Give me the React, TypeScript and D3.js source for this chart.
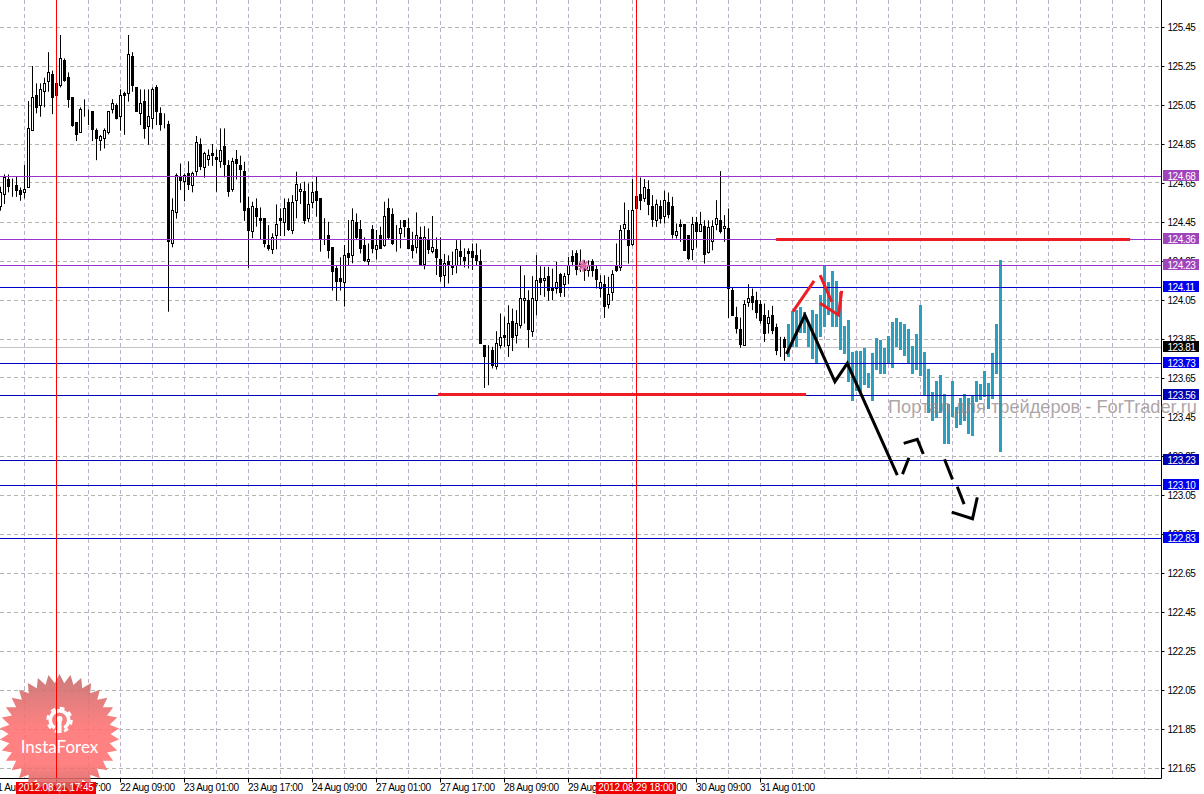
import { useEffect, useRef } from 'react';
import * as d3 from 'd3';

// open, high, low, close for each hourly bar
const ohlc: number[][] = [
  [124.528, 124.631, 124.508, 124.602], [124.59, 124.694, 124.542, 124.679], [124.668, 124.694, 124.602, 124.634], [124.648, 124.673, 124.579, 124.645],
  [124.639, 124.682, 124.579, 124.614], [124.609, 124.627, 124.559, 124.59], [124.6, 124.742, 124.571, 124.617], [124.626, 125.07, 124.626, 124.93],
  [124.918, 125.25, 124.918, 125.089], [125.099, 125.161, 125.007, 125.038], [125.046, 125.161, 124.99, 125.13], [125.118, 125.19, 125.038, 125.161],
  [125.169, 125.321, 125.118, 125.217], [125.207, 125.226, 125.003, 125.087], [125.161, 125.207, 125.036, 125.097], [125.149, 125.409, 125.14, 125.289],
  [125.28, 125.289, 125.169, 125.178], [125.191, 125.217, 125.036, 125.079], [125.089, 125.089, 124.938, 124.947], [124.961, 124.961, 124.865, 124.897],
  [124.908, 125.038, 124.908, 125.027], [125.038, 125.079, 124.99, 125.038], [125.027, 125.027, 124.947, 125.027], [125.019, 125.019, 124.865, 124.926],
  [124.92, 124.93, 124.767, 124.877], [124.867, 124.896, 124.815, 124.887], [124.877, 124.93, 124.827, 124.92], [124.908, 125.017, 124.899, 125.017],
  [125.027, 125.08, 125.007, 125.058], [125.048, 125.058, 124.976, 124.979], [124.99, 125.13, 124.918, 125.097], [125.109, 125.118, 124.897, 125.097],
  [125.109, 125.409, 125.067, 125.309], [125.299, 125.321, 125.118, 125.149], [125.14, 125.14, 125.015, 125.015], [125.007, 125.13, 124.947, 125.058],
  [125.068, 125.13, 124.877, 124.928], [124.938, 125.13, 124.846, 124.991], [124.979, 125.14, 124.928, 125.13], [125.14, 125.152, 124.947, 125.017],
  [125.007, 125.038, 124.918, 124.949], [124.959, 125.007, 124.93, 124.959], [124.95, 124.969, 123.99, 124.349], [124.34, 124.571, 124.32, 124.509],
  [124.499, 124.699, 124.467, 124.687], [124.679, 124.75, 124.614, 124.665], [124.658, 124.699, 124.556, 124.687], [124.699, 124.761, 124.614, 124.644],
  [124.638, 124.708, 124.602, 124.699], [124.708, 124.891, 124.687, 124.856], [124.85, 124.879, 124.716, 124.737], [124.728, 124.81, 124.677, 124.802],
  [124.771, 124.822, 124.738, 124.791], [124.802, 124.85, 124.738, 124.79], [124.781, 124.822, 124.605, 124.771], [124.759, 124.93, 124.728, 124.817],
  [124.839, 124.93, 124.679, 124.747], [124.74, 124.767, 124.579, 124.605], [124.617, 124.779, 124.605, 124.759], [124.771, 124.819, 124.668, 124.749],
  [124.74, 124.79, 124.549, 124.718], [124.709, 124.759, 124.456, 124.508], [124.52, 124.579, 124.215, 124.405], [124.402, 124.554, 124.367, 124.528],
  [124.52, 124.571, 124.426, 124.477], [124.469, 124.525, 124.361, 124.457], [124.469, 124.469, 124.32, 124.34], [124.332, 124.434, 124.303, 124.313],
  [124.31, 124.392, 124.286, 124.371], [124.38, 124.54, 124.31, 124.438], [124.469, 124.52, 124.378, 124.457], [124.446, 124.571, 124.378, 124.52],
  [124.551, 124.571, 124.404, 124.414], [124.404, 124.588, 124.388, 124.551], [124.559, 124.708, 124.469, 124.64], [124.607, 124.648, 124.542, 124.617],
  [124.607, 124.657, 124.44, 124.457], [124.467, 124.648, 124.451, 124.54], [124.551, 124.657, 124.52, 124.602], [124.607, 124.686, 124.477, 124.559],
  [124.571, 124.571, 124.298, 124.361], [124.371, 124.469, 124.332, 124.371], [124.381, 124.451, 124.263, 124.306], [124.32, 124.32, 124.098, 124.198],
  [124.209, 124.229, 124.046, 124.147], [124.161, 124.269, 124.098, 124.147], [124.139, 124.332, 124.016, 124.279], [124.289, 124.46, 124.229, 124.269],
  [124.279, 124.52, 124.238, 124.458], [124.448, 124.494, 124.357, 124.368], [124.409, 124.46, 124.289, 124.316], [124.332, 124.371, 124.246, 124.255],
  [124.246, 124.34, 124.229, 124.258], [124.409, 124.434, 124.289, 124.316], [124.31, 124.409, 124.258, 124.33], [124.383, 124.426, 124.315, 124.316],
  [124.328, 124.554, 124.323, 124.479], [124.52, 124.571, 124.361, 124.371], [124.491, 124.52, 124.332, 124.34], [124.381, 124.434, 124.298, 124.381],
  [124.392, 124.46, 124.315, 124.417], [124.458, 124.46, 124.371, 124.426], [124.417, 124.469, 124.31, 124.316], [124.33, 124.4, 124.263, 124.306],
  [124.32, 124.499, 124.289, 124.381], [124.371, 124.426, 124.224, 124.229], [124.234, 124.429, 124.207, 124.371], [124.361, 124.417, 124.286, 124.308],
  [124.298, 124.481, 124.289, 124.32], [124.31, 124.371, 124.178, 124.269], [124.258, 124.371, 124.144, 124.169], [124.178, 124.286, 124.115, 124.238],
  [124.248, 124.279, 124.135, 124.234], [124.224, 124.298, 124.178, 124.216], [124.229, 124.357, 124.187, 124.31], [124.299, 124.357, 124.229, 124.275],
  [124.269, 124.315, 124.217, 124.255], [124.299, 124.315, 124.212, 124.287], [124.299, 124.34, 124.204, 124.267], [124.279, 124.34, 124.229, 124.255],
  [124.248, 124.309, 123.827, 123.827], [123.818, 123.818, 123.599, 123.758], [123.75, 123.818, 123.613, 123.75], [123.793, 123.81, 123.699, 123.716],
  [123.707, 123.89, 123.693, 123.827], [123.815, 123.981, 123.801, 123.858], [123.866, 123.964, 123.81, 123.856], [123.817, 124.023, 123.758, 123.929],
  [123.94, 124.006, 123.788, 123.858], [123.866, 123.998, 123.827, 123.929], [123.917, 124.227, 123.904, 124.058], [124.046, 124.177, 123.929, 124.058],
  [124.049, 124.1, 123.805, 123.897], [123.887, 124.172, 123.861, 124.058], [124.047, 124.28, 123.972, 124.152], [124.16, 124.223, 124.075, 124.14],
  [124.15, 124.22, 124.066, 124.16], [124.17, 124.22, 124.046, 124.1], [124.111, 124.211, 124.049, 124.097], [124.109, 124.246, 124.083, 124.14],
  [124.181, 124.189, 124.066, 124.087], [124.129, 124.189, 124.066, 124.172], [124.179, 124.271, 124.131, 124.229], [124.271, 124.305, 124.223, 124.246],
  [124.288, 124.305, 124.177, 124.208], [124.237, 124.309, 124.194, 124.22], [124.223, 124.254, 124.148, 124.203], [124.203, 124.254, 124.169, 124.229],
  [124.246, 124.259, 124.169, 124.199], [124.208, 124.229, 124.109, 124.157], [124.109, 124.177, 124.063, 124.14], [124.131, 124.177, 123.958, 124.015],
  [124.027, 124.169, 124.006, 124.078], [124.088, 124.203, 124.046, 124.182], [124.22, 124.34, 124.194, 124.203], [124.217, 124.434, 124.199, 124.408],
  [124.417, 124.55, 124.357, 124.439], [124.408, 124.511, 124.237, 124.328], [124.336, 124.67, 124.328, 124.511], [124.582, 124.63, 124.511, 124.519],
  [124.593, 124.678, 124.511, 124.558], [124.57, 124.67, 124.553, 124.627], [124.617, 124.664, 124.485, 124.54], [124.531, 124.588, 124.425, 124.464],
  [124.456, 124.565, 124.425, 124.54], [124.531, 124.562, 124.442, 124.468], [124.476, 124.61, 124.442, 124.56], [124.55, 124.601, 124.468, 124.487],
  [124.531, 124.579, 124.365, 124.387], [124.381, 124.442, 124.365, 124.401], [124.439, 124.463, 124.348, 124.425], [124.439, 124.439, 124.305, 124.305],
  [124.381, 124.381, 124.254, 124.261], [124.309, 124.476, 124.254, 124.439], [124.447, 124.476, 124.319, 124.401], [124.401, 124.502, 124.399, 124.439],
  [124.429, 124.459, 124.237, 124.285], [124.295, 124.459, 124.288, 124.42], [124.348, 124.459, 124.305, 124.429], [124.437, 124.562, 124.408, 124.468],
  [124.459, 124.711, 124.391, 124.403], [124.415, 124.485, 124.348, 124.429], [124.418, 124.519, 123.958, 124.107], [124.1, 124.117, 123.969, 123.969],
  [123.96, 124.015, 123.878, 123.904], [123.9, 123.96, 123.805, 123.822], [123.815, 124.049, 123.815, 124.029], [124.035, 124.131, 124.015, 124.058],
  [124.07, 124.109, 123.998, 124.035], [124.049, 124.092, 123.955, 123.987], [124.029, 124.049, 123.929, 123.946], [123.972, 124.032, 123.835, 123.878],
  [123.929, 123.998, 123.878, 123.96], [123.972, 124.02, 123.875, 123.895], [123.909, 123.929, 123.767, 123.789], [123.803, 123.861, 123.758, 123.803],
  [123.847, 123.861, 123.738, 123.805],
];

// teal projection columns, starting right after the last candle
const projectionStart = 197;
const projectionHigh = [
  123.927, 123.995, 123.998, 124.015, 123.99, 123.927, 123.998, 123.978, 124.075, 124.226, 124.144, 124.2, 124.147, 124.092,
  123.916, 123.947, 123.785, 123.79, 123.79, 123.805, 123.677, 123.776, 123.853, 123.844, 123.805, 123.865, 123.938, 123.957,
  123.938, 123.927, 123.899, 123.814, 123.875, 124.024, 123.785, 123.694, 123.576, 123.634, 123.663, 123.566, 123.516, 123.634,
  123.503, 123.545, 123.568, 123.545, 123.559, 123.634, 123.619, 123.687, 123.622, 123.776, 123.927, 124.255,
];
const projectionLow = [
  123.756, 123.81, 123.81, 123.879, 123.882, 123.807, 123.75, 123.725, 123.862, 123.909, 123.973, 123.913, 123.909, 123.793,
  123.773, 123.631, 123.533, 123.585, 123.58, 123.614, 123.597, 123.533, 123.691, 123.67, 123.67, 123.721, 123.703, 123.807,
  123.793, 123.762, 123.721, 123.67, 123.691, 123.66, 123.562, 123.468, 123.431, 123.443, 123.468, 123.311, 123.311, 123.451,
  123.395, 123.409, 123.431, 123.362, 123.352, 123.528, 123.537, 123.554, 123.491, 123.542, 123.67, 123.272,
];

const priceTicks = [
  125.45, 125.25, 125.05, 124.85, 124.65, 124.45, 124.25, 124.05, 123.85, 123.65, 123.45, 123.25, 123.05,
  122.85, 122.65, 122.45, 122.25, 122.05, 121.85, 121.65,
];
const timeTickBars = [-2, 14, 30, 46, 62, 78, 94, 110, 126, 142, 158, 174, 190];
const timeTickLabels = [
  '21 Aug 01:00', '21 Aug 17:00', '22 Aug 09:00', '23 Aug 01:00', '23 Aug 17:00', '24 Aug 09:00', '27 Aug 01:00',
  '27 Aug 17:00', '28 Aug 09:00', '29 Aug 01:00', '29 Aug 17:00', '30 Aug 09:00', '31 Aug 01:00',
];
const gridBars = d3.range(6, 290, 8);

const purpleLevels = [124.684, 124.36, 124.226];
const blueLevels = [124.113, 123.726, 123.10, 122.828];
const darkBlueLevels = [123.56, 123.228];
const lastPrice = 123.806;

const markerBars = [14, 159];
const markerLabels = ['2012.08.21 17:45', '2012.08.29 18:00'];

// hand drawn lines as [bar, price]
const blackStrokes: [number, number][][] = [
  [[196.5, 123.773], [201.1, 123.973], [208.6, 123.631], [211.7, 123.725], [224.2, 123.152]],
  [[225.5, 123.157], [227.1, 123.241]],
  [[225.8, 123.315], [229.2, 123.335], [230.7, 123.26]],
  [[236, 123.233], [238, 123.13]],
  [[239.2, 123.092], [240.9, 123.003]],
  [[237.8, 122.962], [243, 122.928], [244.2, 123.038]],
];
const redStrokes: [number, number][][] = [
  [[198.1, 123.99], [203.4, 124.148]],
  [[204.9, 124.178], [207.8, 124.041]],
  [[204.9, 124.033], [209.5, 123.973], [210.3, 124.097]],
];
const redSegments = [
  { from: 193.9, to: 282.4, price: 124.36 },
  { from: 109.4, to: 201.4, price: 123.565 },
];
const starMark: [number, number] = [145.7, 124.226];
const starAngles = [0, 45, 90, 135];

const plotRight = 1161.5;
const plotBottom = 778;
const fontFamily = '"Liberation Sans", Arial, sans-serif';

export default function App() {
  const svgRef = useRef<SVGSVGElement>(null);

  useEffect(() => {
    if (!svgRef.current) return;
    const svg = d3.select(svgRef.current);
    svg.selectAll('*').remove();

    const x = d3.scaleLinear().domain([0, 1]).range([0.5, 4.5]);
    const y = d3.scaleLinear().domain([125.45, 121.65]).range([27, 768]);
    const py = (v: number) => Math.round(y(v) - 0.5) + 0.5;

    // Grid
    const grid = svg.append('g').attr('fill', 'none');
    grid.selectAll('.gh').data(priceTicks).join('line')
      .attr('x1', 0).attr('x2', plotRight)
      .attr('y1', d => py(d)).attr('y2', d => py(d))
      .attr('stroke', '#b0b8b0').attr('stroke-dasharray', '4,3');
    grid.selectAll('.gv').data(gridBars).join('line')
      .attr('x1', d => x(d)).attr('x2', d => x(d))
      .attr('y1', 0).attr('y2', plotBottom)
      .attr('stroke', '#c0afc8').attr('stroke-dasharray', '4,3');

    // Last price line
    svg.append('line')
      .attr('x1', 0).attr('x2', plotRight)
      .attr('y1', py(lastPrice)).attr('y2', py(lastPrice))
      .attr('stroke', '#c4c4c4');

    // Projection columns
    svg.append('g').selectAll('rect').data(projectionHigh).join('rect')
      .attr('x', (_, i) => x(projectionStart + i) - 1.5)
      .attr('width', 3)
      .attr('y', d => y(d))
      .attr('height', (d, i) => y(projectionLow[i]) - y(d))
      .attr('fill', '#2a9fc0')
      .attr('shape-rendering', 'crispEdges');

    // Candles
    const candles = svg.append('g').selectAll('g').data(ohlc).join('g');
    candles.append('line')
      .attr('x1', (_, i) => x(i)).attr('x2', (_, i) => x(i))
      .attr('y1', d => y(d[1])).attr('y2', d => y(d[2]))
      .attr('stroke', '#000');
    candles.append('rect')
      .attr('x', (_, i) => x(i) - 1)
      .attr('width', 2)
      .attr('y', d => py(Math.max(d[0], d[3])))
      .attr('height', d => Math.max(py(Math.min(d[0], d[3])) - py(Math.max(d[0], d[3])), 0))
      .attr('fill', d => (d[3] > d[0] ? '#fff' : '#000'))
      .attr('stroke', '#000')
      .attr('shape-rendering', 'crispEdges');

    // Levels
    const levelLine = (values: number[], color: string) => {
      svg.append('g').selectAll('line').data(values).join('line')
        .attr('x1', 0).attr('x2', plotRight)
        .attr('y1', d => py(d)).attr('y2', d => py(d))
        .attr('stroke', color);
    };
    levelLine(purpleLevels, '#9932cc');
    levelLine(blueLevels, '#0000cd');
    levelLine(darkBlueLevels, '#0000b4');

    // Red segments on the levels
    svg.append('g').selectAll('line').data(redSegments).join('line')
      .attr('x1', d => x(d.from)).attr('x2', d => x(d.to))
      .attr('y1', d => y(d.price)).attr('y2', d => y(d.price))
      .attr('stroke', '#ee1c25').attr('stroke-width', 3);

    // Hand drawn strokes
    const stroke = d3.line<[number, number]>().x(d => x(d[0])).y(d => y(d[1]));
    svg.append('g').attr('fill', 'none').selectAll('path').data(blackStrokes).join('path')
      .attr('d', d => stroke(d))
      .attr('stroke', '#000').attr('stroke-width', 3);
    svg.append('g').attr('fill', 'none').selectAll('path').data(redStrokes).join('path')
      .attr('d', d => stroke(d))
      .attr('stroke', '#ee1c25').attr('stroke-width', 3);

    // Pink star on the chart
    svg.append('g')
      .attr('transform', `translate(${x(starMark[0])},${y(starMark[1])})`)
      .selectAll('line').data(starAngles).join('line')
      .attr('transform', d => `rotate(${d})`)
      .attr('x1', -6).attr('x2', 6)
      .attr('stroke', '#dc6ca8').attr('stroke-width', 2);

    // Axis frames
    svg.append('line')
      .attr('x1', plotRight).attr('x2', plotRight).attr('y1', 0).attr('y2', plotBottom + 0.5)
      .attr('stroke', '#000');
    svg.append('line')
      .attr('x1', 0).attr('x2', plotRight).attr('y1', plotBottom + 0.5).attr('y2', plotBottom + 0.5)
      .attr('stroke', '#000');

    // Price axis
    const yAxis = svg.append('g')
      .attr('transform', `translate(${plotRight},0)`)
      .call(d3.axisRight(y).tickValues(priceTicks).tickSize(3).tickFormat(d3.format('.2f') as never));
    yAxis.select('.domain').remove();
    yAxis.selectAll('.tick text')
      .attr('x', 6)
      .attr('fill', '#000')
      .attr('font-size', '10px')
      .attr('letter-spacing', '-0.45px')
      .attr('font-family', fontFamily);
    yAxis.selectAll('.tick line').attr('stroke', '#000');

    // Time axis
    const xAxis = svg.append('g')
      .attr('transform', `translate(0,${plotBottom + 0.5})`)
      .call(d3.axisBottom(x).tickValues(timeTickBars).tickSize(4).offset(0)
        .tickFormat((_, i) => timeTickLabels[i]));
    xAxis.select('.domain').remove();
    xAxis.selectAll('.tick text')
      .attr('text-anchor', 'start')
      .attr('x', -0.5)
      .attr('y', 5)
      .attr('fill', '#000')
      .attr('font-size', '10px')
      .attr('letter-spacing', '-0.35px')
      .attr('font-family', fontFamily);
    xAxis.selectAll('.tick line').attr('stroke', '#000');

    // Marker tags under the time axis, the logo goes over them
    svg.append('g').selectAll('rect').data(markerBars).join('rect')
      .attr('x', d => x(d) - 40.5).attr('width', 80)
      .attr('y', 782).attr('height', 12)
      .attr('fill', '#f00000');

    // Price tags
    const priceTag = (values: number[], color: string) => {
      const tag = svg.append('g').selectAll('g').data(values).join('g')
        .attr('transform', d => `translate(1163,${py(d)})`);
      tag.append('rect')
        .attr('y', -6.5).attr('width', 36).attr('height', 11)
        .attr('fill', color);
      tag.append('text')
        .attr('x', 4.5).attr('y', 3)
        .attr('fill', '#fff')
        .attr('font-size', '10px')
        .attr('letter-spacing', '-0.45px')
        .attr('font-family', fontFamily)
        .text(d => d.toFixed(2));
    };
    priceTag(purpleLevels, '#a044bb');
    priceTag(blueLevels, '#0000f0');
    priceTag(darkBlueLevels, '#0000b4');
    priceTag([lastPrice], '#000');

    // Watermark
    svg.append('text')
      .attr('x', 888).attr('y', 413)
      .attr('fill', '#8f8484').attr('opacity', 0.72)
      .attr('font-size', '18.2px')
      .attr('font-family', fontFamily)
      .text('Портал для трейдеров - ForTrader.ru');

    // Logo
    const gradient = svg.append('defs').append('linearGradient')
      .attr('id', 'logoFill').attr('x1', 0).attr('x2', 0).attr('y1', 0).attr('y2', 1);
    gradient.append('stop').attr('offset', '0%').attr('stop-color', '#c46a6a');
    gradient.append('stop').attr('offset', '45%').attr('stop-color', '#ff7070');
    gradient.append('stop').attr('offset', '75%').attr('stop-color', '#ff7070');
    gradient.append('stop').attr('offset', '100%').attr('stop-color', '#c85f5f');

    const logo = svg.append('g').attr('transform', 'translate(59.5,734)');
    const spikes = 34;
    const rim = d3.range(spikes * 2).map(i => [
      (i * Math.PI) / spikes,
      i % 2 === 0 ? 60 : 51,
    ] as [number, number]);
    logo.append('path')
      .attr('d', d3.lineRadial().curve(d3.curveLinearClosed)(rim))
      .attr('fill', 'url(#logoFill)')
      .attr('opacity', 0.88);
    const gear = logo.append('g').attr('transform', 'translate(0,-14)');
    gear.append('path')
      .attr('d', d3.arc()({ innerRadius: 7.5, outerRadius: 11, startAngle: Math.PI + 0.55, endAngle: Math.PI * 3 - 0.55 }) as string)
      .attr('fill', '#fff');
    gear.append('circle')
      .attr('r', 12).attr('fill', 'none')
      .attr('stroke', '#fff').attr('stroke-width', 2.5).attr('stroke-dasharray', '4.7,4.72');
    gear.append('circle').attr('cy', -1).attr('r', 3).attr('fill', '#fff');
    gear.append('rect').attr('x', -2).attr('y', 0).attr('width', 4).attr('height', 13).attr('fill', '#fff');
    logo.append('text')
      .attr('y', 18.5)
      .attr('text-anchor', 'middle')
      .attr('fill', '#fff')
      .attr('font-size', '17px')
      .attr('font-family', 'Lato, sans-serif')
      .text('InstaForex');

    // Marker text and lines stay visible through the logo
    svg.append('g').selectAll('text').data(markerBars).join('text')
      .attr('x', d => x(d) - 0.5)
      .attr('y', 791)
      .attr('text-anchor', 'middle')
      .attr('fill', '#fff')
      .attr('font-size', '10px')
      .attr('letter-spacing', '-0.15px')
      .attr('font-family', fontFamily)
      .text((_, i) => markerLabels[i]);
    svg.append('g').selectAll('line').data(markerBars).join('line')
      .attr('x1', d => x(d)).attr('x2', d => x(d))
      .attr('y1', 0).attr('y2', plotBottom)
      .attr('stroke', '#ff0000');
  }, []);

  return (
    <>
      <style>{'body { margin: 0; background: #fff; }'}</style>
      <svg ref={svgRef} width={1204} height={794} style={{ display: 'block' }} />
    </>
  );
}
